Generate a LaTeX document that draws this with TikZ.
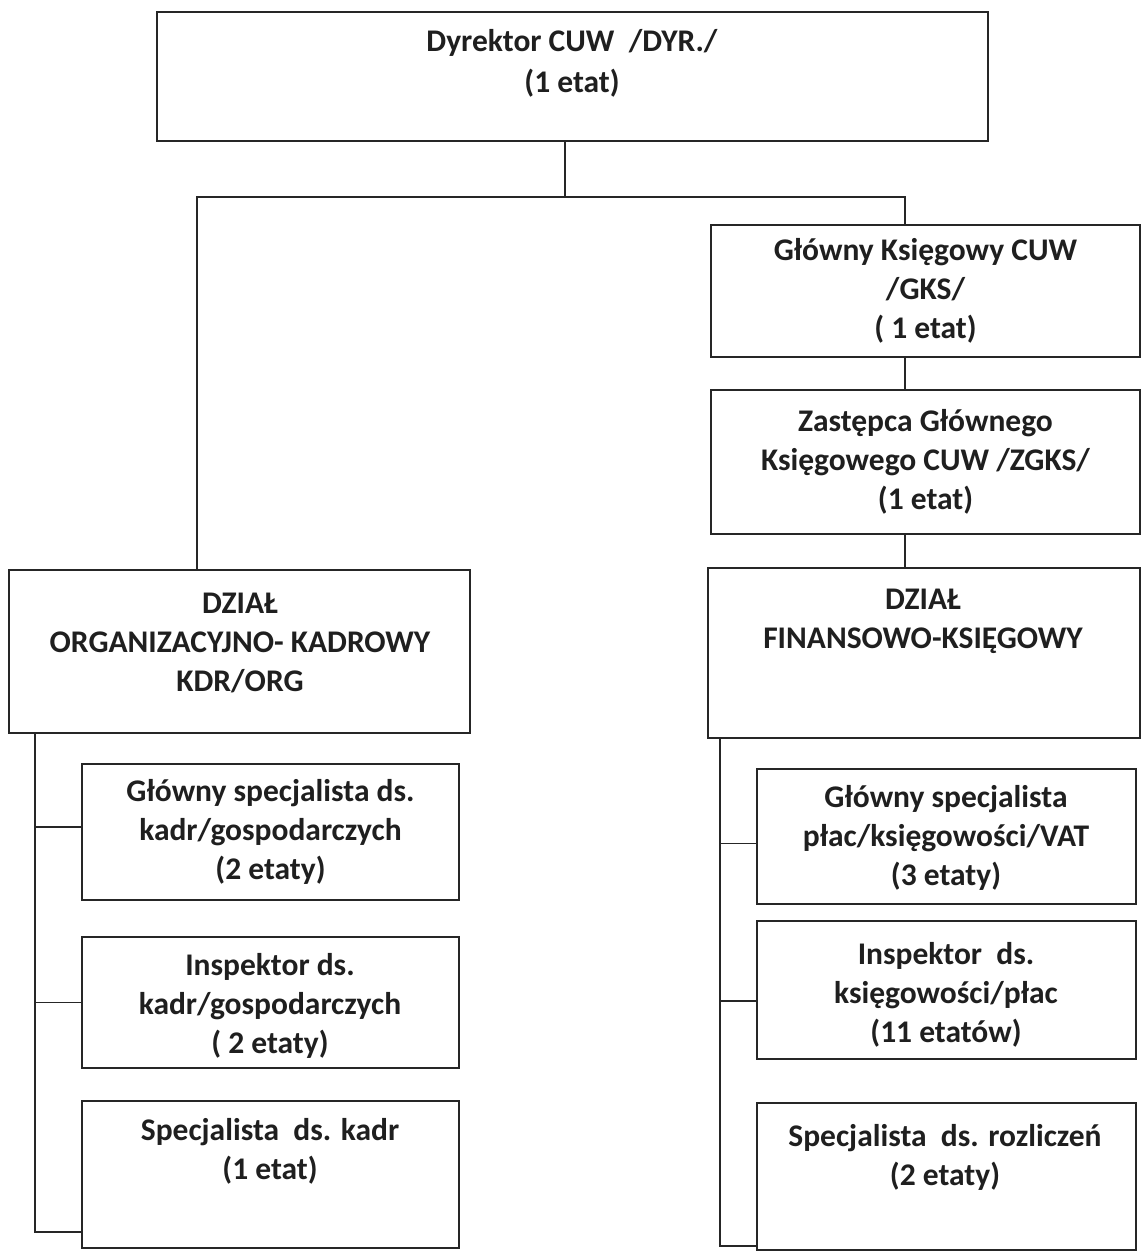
\documentclass[tikz,border=0pt]{standalone}
\usepackage{fontspec}
\setmainfont{Carlito}
\begin{document}
\begin{tikzpicture}[x=1pt,y=-1pt,
  box/.style={draw=black!85, line width=1.3pt, rectangle, inner sep=0pt, align=center},
  txt/.style={align=center, inner sep=0pt, font=\fontsize{31.5}{39}\selectfont\bfseries, text=black!88},
  conn/.style={draw=black!85, line width=1.3pt}]
\useasboundingbox[fill=white] (0,0) rectangle (1143,1251);
% boxes
\node[box, minimum width=831pt, minimum height=129pt] (dyr) at (572.5,76.5) {};
\node[txt, font=\fontsize{31.5}{41}\selectfont\bfseries] (dyrt) at (572,63) {Dyrektor CUW~ /DYR./\\(1 etat)};
\node[box, txt, minimum width=429pt, minimum height=132pt] (gks) at (925.5,291) {Główny Księgowy CUW\\/GKS/\\( 1 etat)};
\node[box, txt, minimum width=429pt, minimum height=144pt] (zgks) at (925.5,462) {Zastępca Głównego\\Księgowego CUW /ZGKS/\\(1 etat)};
\node[box, minimum width=461pt, minimum height=163pt] (org) at (239.5,651.5) {};
\node[txt] (orgt) at (240,643) {DZIAŁ\\ORGANIZACYJNO- KADROWY\\KDR/ORG};
\node[box, minimum width=432pt, minimum height=170pt] (fin) at (924,653) {};
\node[txt] (fint) at (923,621) {DZIAŁ\\FINANSOWO-KSIĘGOWY};
\node[box, txt, minimum width=377pt, minimum height=136pt] (l1) at (270.5,832) {Główny specjalista ds.\\kadr/gospodarczych\\(2 etaty)};
\node[box, minimum width=377pt, minimum height=131pt] (l2) at (270.5,1002.5) {};
\node[txt] (l2t) at (270,1006) {Inspektor ds.\\kadr/gospodarczych\\( 2 etaty)};
\node[box, minimum width=377pt, minimum height=147pt] (l3) at (270.5,1174.5) {};
\node[txt] (l3t) at (270,1151) {Specjalista~ ds. kadr\\(1 etat)};
\node[box, minimum width=379pt, minimum height=135pt] (r1) at (946.5,836.5) {};
\node[txt] (r1t) at (946,838) {Główny specjalista\\płac/księgowości/VAT\\(3 etaty)};
\node[box, minimum width=379pt, minimum height=138pt] (r2) at (946.5,990) {};
\node[txt] (r2t) at (946,995) {Inspektor~ ds.\\księgowości/płac\\(11 etatów)};
\node[box, minimum width=379pt, minimum height=147pt] (r3) at (946.5,1176.5) {};
\node[txt] (r3t) at (945,1157) {Specjalista~ ds. rozliczeń\\(2 etaty)};
% junctions
\coordinate (j1) at (565,197);
\coordinate (jl) at (197,197);
\coordinate (jr) at (905,197);
\coordinate (sl) at (35,1232);
\coordinate (sr) at (720,1246);
% connectors
\draw[conn] (dyr.south -| j1) -- (j1);
\draw[conn] (jl |- org.north) -- (jl) -- (jr) -- (jr |- gks.north);
\draw[conn] (gks.south -| jr) -- (zgks.north -| jr);
\draw[conn] (zgks.south -| jr) -- (fin.north -| jr);
\draw[conn] (sl |- org.south) -- (sl) -- (sl -| l3.west);
\draw[conn] ([yshift=5pt]l1.west -| sl) -- ([yshift=5pt]l1.west);
\draw[conn] (l2.west -| sl) -- (l2.west);
\draw[conn] (sr |- fin.south) -- (sr) -- (sr -| r3.west);
\draw[conn] ([yshift=-7pt]r1.west -| sr) -- ([yshift=-7pt]r1.west);
\draw[conn] ([yshift=-11pt]r2.west -| sr) -- ([yshift=-11pt]r2.west);
\end{tikzpicture}
\end{document}
